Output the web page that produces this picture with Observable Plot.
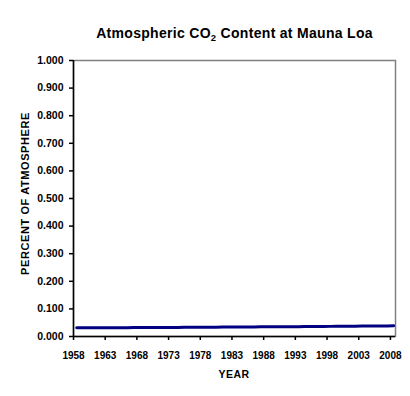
<!DOCTYPE html>
<html>
<head>
<meta charset="utf-8">
<script src="https://cdn.jsdelivr.net/npm/d3@7"></script>
<script src="https://cdn.jsdelivr.net/npm/@observablehq/plot@0.6"></script>
<style>
  html, body { margin: 0; padding: 0; background: #fff; }
  svg { font-family: "Liberation Sans", Arial, sans-serif; }
</style>
</head>
<body>
<div id="chart"></div>
<script>
// Annual mean CO2 at Mauna Loa (ppm), shown as percent of atmosphere
const years = [1958,1959,1960,1961,1962,1963,1964,1965,1966,1967,1968,1969,1970,1971,1972,1973,1974,1975,1976,1977,1978,1979,1980,1981,1982,1983,1984,1985,1986,1987,1988,1989,1990,1991,1992,1993,1994,1995,1996,1997,1998,1999,2000,2001,2002,2003,2004,2005,2006,2007,2008];
const ppm = [315.3,315.98,316.91,317.64,318.45,318.99,319.62,320.04,321.37,322.18,323.05,324.62,325.68,326.32,327.46,329.68,330.19,331.12,332.03,333.84,335.41,336.84,338.76,340.12,341.48,343.15,344.87,346.35,347.61,349.31,351.69,353.20,354.45,355.70,356.54,357.21,358.96,360.97,362.74,363.88,366.84,368.54,369.71,371.32,373.45,375.98,377.70,379.98,382.09,384.02,385.83];
const xTicks = [1958,1963,1968,1973,1978,1983,1988,1993,1998,2003,2008];
const yTicks = [0,0.1,0.2,0.3,0.4,0.5,0.6,0.7,0.8,0.9,1.0];
const titleText = ["Atmospheric CO", "2", " Content at Mauna Loa"];
const xLabel = "YEAR";
const yLabel = "PERCENT OF ATMOSPHERE";

const data = years.map((y, i) => ({year: y + 0.5, pct: ppm[i] / 10000}));

const chart = Plot.plot({
  width: 410,
  height: 396,
  marginLeft: 73,
  marginRight: 15,
  marginTop: 60,
  marginBottom: 60,
  style: {fontFamily: "'Liberation Sans', Arial, sans-serif", fontSize: "10px", fontWeight: "bold", color: "#000", background: "#fff"},
  x: {domain: [1958, 2008.8], label: null},
  y: {domain: [0, 1], label: null},
  marks: [
    Plot.frame({stroke: "#808080", strokeWidth: 1.5}),
    Plot.axisX({ticks: xTicks, tickFormat: d => String(d), tickSize: 4, tickPadding: 11, label: null, fontWeight: "bold", fontSize: 10, strokeWidth: 1.5}),
    Plot.axisY({ticks: yTicks, tickFormat: d3.format(".3f"), tickSize: 4, tickPadding: 6, label: null, fontWeight: "bold", fontSize: 10.5, strokeWidth: 1.5}),
    Plot.ruleX([1958], {stroke: "#000", strokeWidth: 1.5}),
    Plot.ruleY([0], {stroke: "#000", strokeWidth: 1.5}),
    Plot.line(data, {x: "year", y: "pct", stroke: "#000080", strokeWidth: 3})
  ]
});

const svg = d3.select(chart);
// Title with subscript
const t = svg.append("text")
  .attr("x", 234.5).attr("y", 38)
  .attr("text-anchor", "middle")
  .attr("font-size", 14).attr("font-weight", "bold").attr("fill", "#000")
  .attr("letter-spacing", "0.3px");
t.append("tspan").text(titleText[0]);
t.append("tspan").attr("font-size", 9.5).attr("dy", 3).text(titleText[1]);
t.append("tspan").attr("dy", -3).text(titleText[2]);

svg.append("text")
  .attr("x", 234).attr("y", 378)
  .attr("text-anchor", "middle")
  .attr("font-size", 10.5).attr("font-weight", "bold").attr("fill", "#000")
  .attr("letter-spacing", "0.5px")
  .text(xLabel);

svg.append("text")
  .attr("transform", "translate(28.5,193.5) rotate(-90)")
  .attr("text-anchor", "middle")
  .attr("font-size", 11).attr("font-weight", "bold").attr("fill", "#000")
  .attr("letter-spacing", "0.6px")
  .text(yLabel);

document.getElementById("chart").appendChild(chart);
</script>
</body>
</html>
